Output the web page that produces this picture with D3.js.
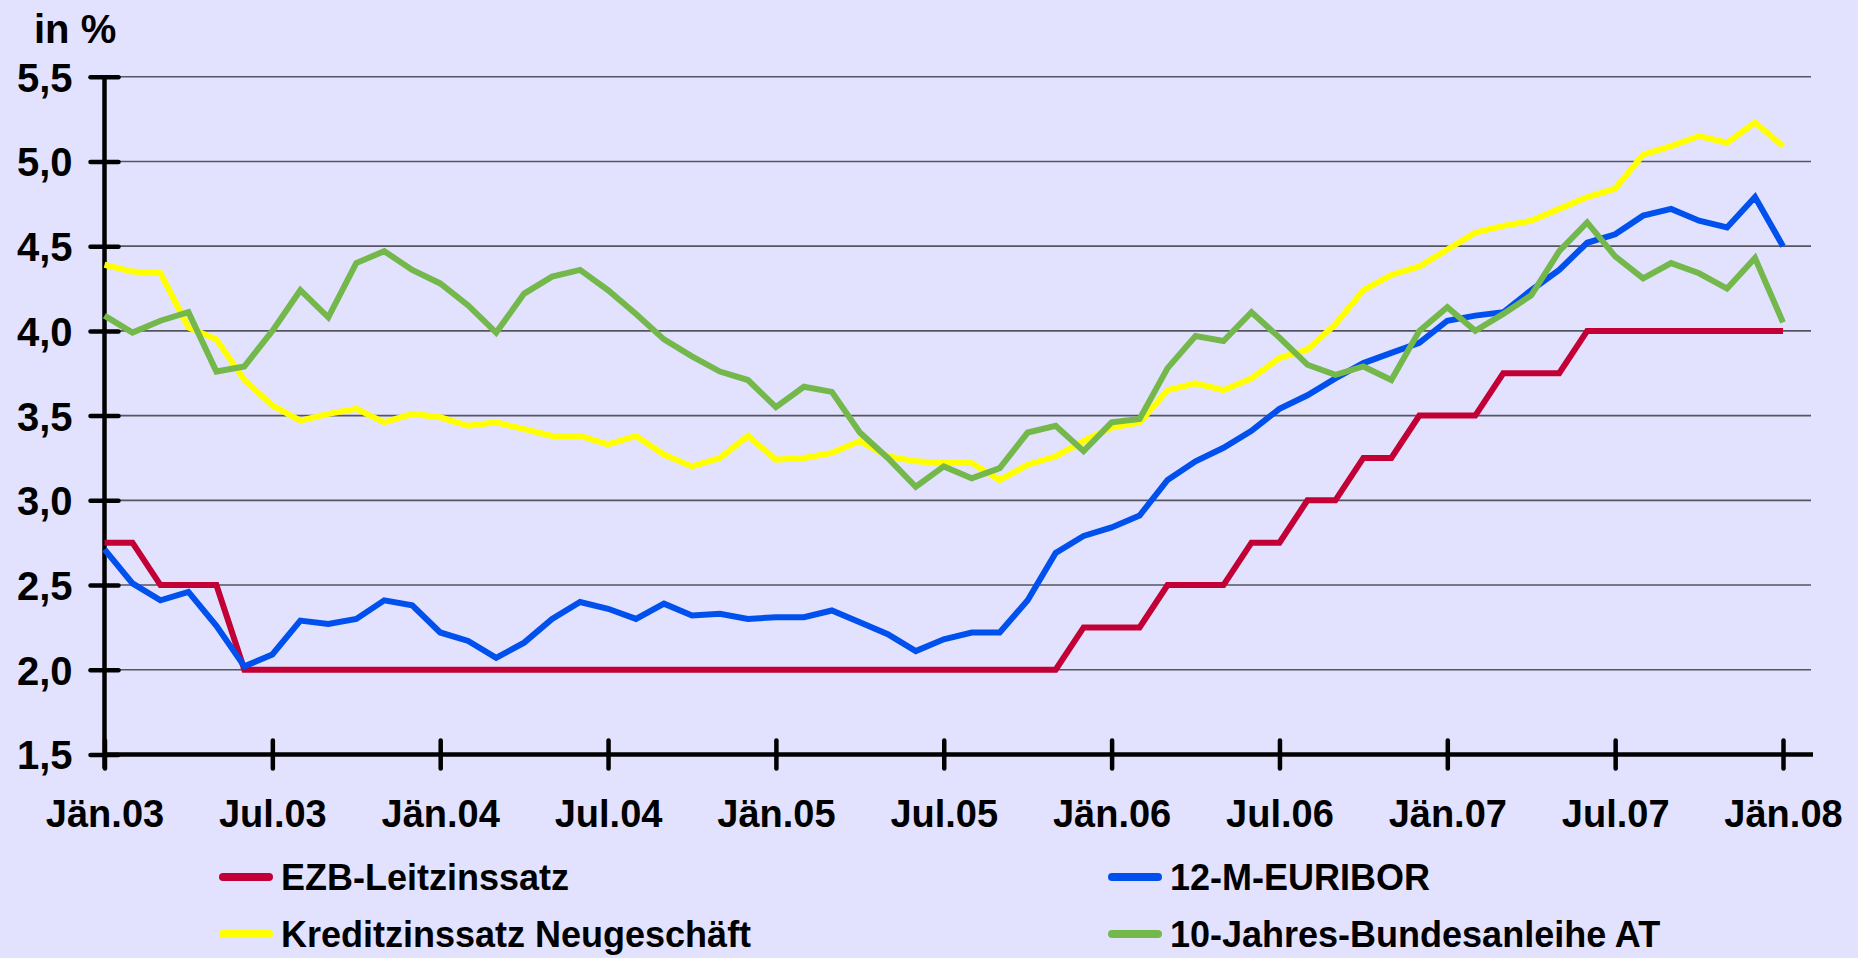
<!DOCTYPE html>
<html>
<head>
<meta charset="utf-8">
<script src="https://cdn.jsdelivr.net/npm/d3@7"></script>
<style>
  body { margin: 0; background: #e2e2fe; }
  svg { display: block; }
  text { font-family: "Liberation Sans", Arial, sans-serif; font-weight: bold; fill: #000; }
</style>
</head>
<body>
<div id="chart"></div>
<script>
// monthly values, Jän.03 .. Jän.08 (61 months)
const tickLabels = ["Jän.03", "Jul.03", "Jän.04", "Jul.04", "Jän.05", "Jul.05",
  "Jän.06", "Jul.06", "Jän.07", "Jul.07", "Jän.08"];
const yTicks = [1.5, 2.0, 2.5, 3.0, 3.5, 4.0, 4.5, 5.0, 5.5];

const ezb = [2.75, 2.75, 2.5, 2.5, 2.5, 2.0, 2.0, 2.0, 2.0, 2.0, 2.0, 2.0,
  2.0, 2.0, 2.0, 2.0, 2.0, 2.0, 2.0, 2.0, 2.0, 2.0, 2.0, 2.0,
  2.0, 2.0, 2.0, 2.0, 2.0, 2.0, 2.0, 2.0, 2.0, 2.0, 2.0, 2.25,
  2.25, 2.25, 2.5, 2.5, 2.5, 2.75, 2.75, 3.0, 3.0, 3.25, 3.25, 3.5,
  3.5, 3.5, 3.75, 3.75, 3.75, 4.0, 4.0, 4.0, 4.0, 4.0, 4.0, 4.0, 4.0];

const euribor = [2.71, 2.51, 2.41, 2.46, 2.26, 2.02, 2.09, 2.29, 2.27, 2.30, 2.41, 2.38,
  2.22, 2.17, 2.07, 2.16, 2.30, 2.40, 2.36, 2.30, 2.39, 2.32, 2.33, 2.30,
  2.31, 2.31, 2.35, 2.28, 2.21, 2.11, 2.18, 2.22, 2.22, 2.41, 2.69, 2.79,
  2.84, 2.91, 3.12, 3.23, 3.31, 3.41, 3.54, 3.62, 3.72, 3.81, 3.87, 3.93,
  4.06, 4.09, 4.11, 4.24, 4.36, 4.52, 4.57, 4.68, 4.72, 4.65, 4.61, 4.79, 4.50];

const kredit = [4.39, 4.35, 4.34, 4.02, 3.95, 3.71, 3.56, 3.47, 3.51, 3.54, 3.46, 3.51,
  3.49, 3.44, 3.46, 3.42, 3.38, 3.38, 3.33, 3.38, 3.27, 3.20, 3.25, 3.38,
  3.24, 3.25, 3.28, 3.35, 3.26, 3.23, 3.22, 3.22, 3.12, 3.21, 3.26, 3.35,
  3.43, 3.46, 3.65, 3.69, 3.65, 3.72, 3.84, 3.89, 4.04, 4.24, 4.33, 4.38,
  4.48, 4.58, 4.62, 4.65, 4.72, 4.79, 4.84, 5.04, 5.09, 5.15, 5.11, 5.23, 5.09];

const bund = [4.09, 3.99, 4.06, 4.11, 3.76, 3.79, 4.00, 4.24, 4.08, 4.40, 4.47, 4.36,
  4.28, 4.15, 3.99, 4.22, 4.32, 4.36, 4.24, 4.10, 3.95, 3.85, 3.76, 3.71,
  3.55, 3.67, 3.64, 3.40, 3.25, 3.08, 3.20, 3.13, 3.19, 3.40, 3.44, 3.29,
  3.46, 3.48, 3.78, 3.97, 3.94, 4.11, 3.96, 3.80, 3.74, 3.79, 3.71, 4.00,
  4.14, 4.00, 4.10, 4.21, 4.47, 4.64, 4.44, 4.31, 4.40, 4.34, 4.25, 4.43, 4.05];

const seriesNames = ["EZB-Leitzinssatz", "12-M-EURIBOR", "Kreditzinssatz Neugeschäft", "10-Jahres-Bundesanleihe AT"];
const seriesColors = ["#c20036", "#0050ee", "#ffff00", "#74b84c"];
const seriesData = [ezb, euribor, kredit, bund];

const W = 1858, H = 958;
const svg = d3.select("#chart").append("svg").attr("width", W).attr("height", H);

const x = d3.scaleLinear().domain([0, 60]).range([104.5, 1783]);
const y = d3.scaleLinear().domain([1.5, 5.5]).range([754.5, 76.7]);
const gridRight = 1811;

// gridlines
svg.append("g")
  .selectAll("line")
  .data(yTicks.slice(1))
  .join("line")
  .attr("x1", x(0)).attr("x2", gridRight)
  .attr("y1", d => y(d)).attr("y2", d => y(d))
  .style("stroke", "#55555f")
  .style("stroke-width", "1.6px");

// y axis
const yAxis = svg.append("g")
  .attr("transform", "translate(" + x(0) + ",0)")
  .call(d3.axisLeft(y).tickValues(yTicks).tickSize(0).tickPadding(32)
    .tickFormat(d => d3.format(".1f")(d).replace(".", ",")));
yAxis.select(".domain").remove();
yAxis.selectAll("text").style("font-size", "40px").attr("dy", "0.36em");
yAxis.append("line")
  .attr("x1", 0).attr("x2", 0).attr("y1", y(5.5)).attr("y2", y(1.5) + 14)
  .style("stroke", "#000").style("stroke-width", "4.5px");
yAxis.selectAll(".tick")
  .append("line")
  .attr("x1", -14).attr("x2", 14)
  .style("stroke", "#000").style("stroke-width", "4.5px").style("stroke-linecap", "round");

// x axis
const xAxis = svg.append("g")
  .attr("transform", "translate(0," + y(1.5) + ")")
  .call(d3.axisBottom(x).tickValues(d3.range(0, 61, 6)).tickSize(0).tickPadding(46)
    .tickFormat((d, i) => tickLabels[i]));
xAxis.select(".domain").remove();
xAxis.selectAll("text").style("font-size", "38px");
xAxis.append("line")
  .attr("x1", x(0)).attr("x2", 1813)
  .style("stroke", "#000").style("stroke-width", "4.5px");
xAxis.selectAll(".tick")
  .append("line")
  .attr("y1", -14).attr("y2", 14)
  .style("stroke", "#000").style("stroke-width", "4.5px").style("stroke-linecap", "round");

// unit label
svg.append("text")
  .attr("x", 34).attr("y", 43)
  .style("font-size", "40px")
  .text("in %");

// lines
const line = d3.line().x((d, i) => x(i)).y(d => y(d));
svg.append("g")
  .selectAll("path")
  .data(seriesData)
  .join("path")
  .attr("d", line)
  .style("fill", "none")
  .style("stroke", (d, i) => seriesColors[i])
  .style("stroke-width", "6px")
  .style("stroke-linejoin", "miter");

// legend
const legendX = [219, 1108];
const legendY = [877, 934];
const legend = svg.append("g")
  .selectAll("g")
  .data(seriesNames)
  .join("g")
  .attr("transform", (d, i) => "translate(" + legendX[i % 2] + "," + legendY[Math.floor(i / 2)] + ")");
legend.append("line")
  .attr("x1", 4).attr("x2", 50)
  .style("stroke", (d, i) => seriesColors[i])
  .style("stroke-width", "8px")
  .style("stroke-linecap", "round");
legend.append("text")
  .attr("x", 62).attr("dy", "0.36em")
  .style("font-size", "36px")
  .text(d => d);
</script>
</body>
</html>
